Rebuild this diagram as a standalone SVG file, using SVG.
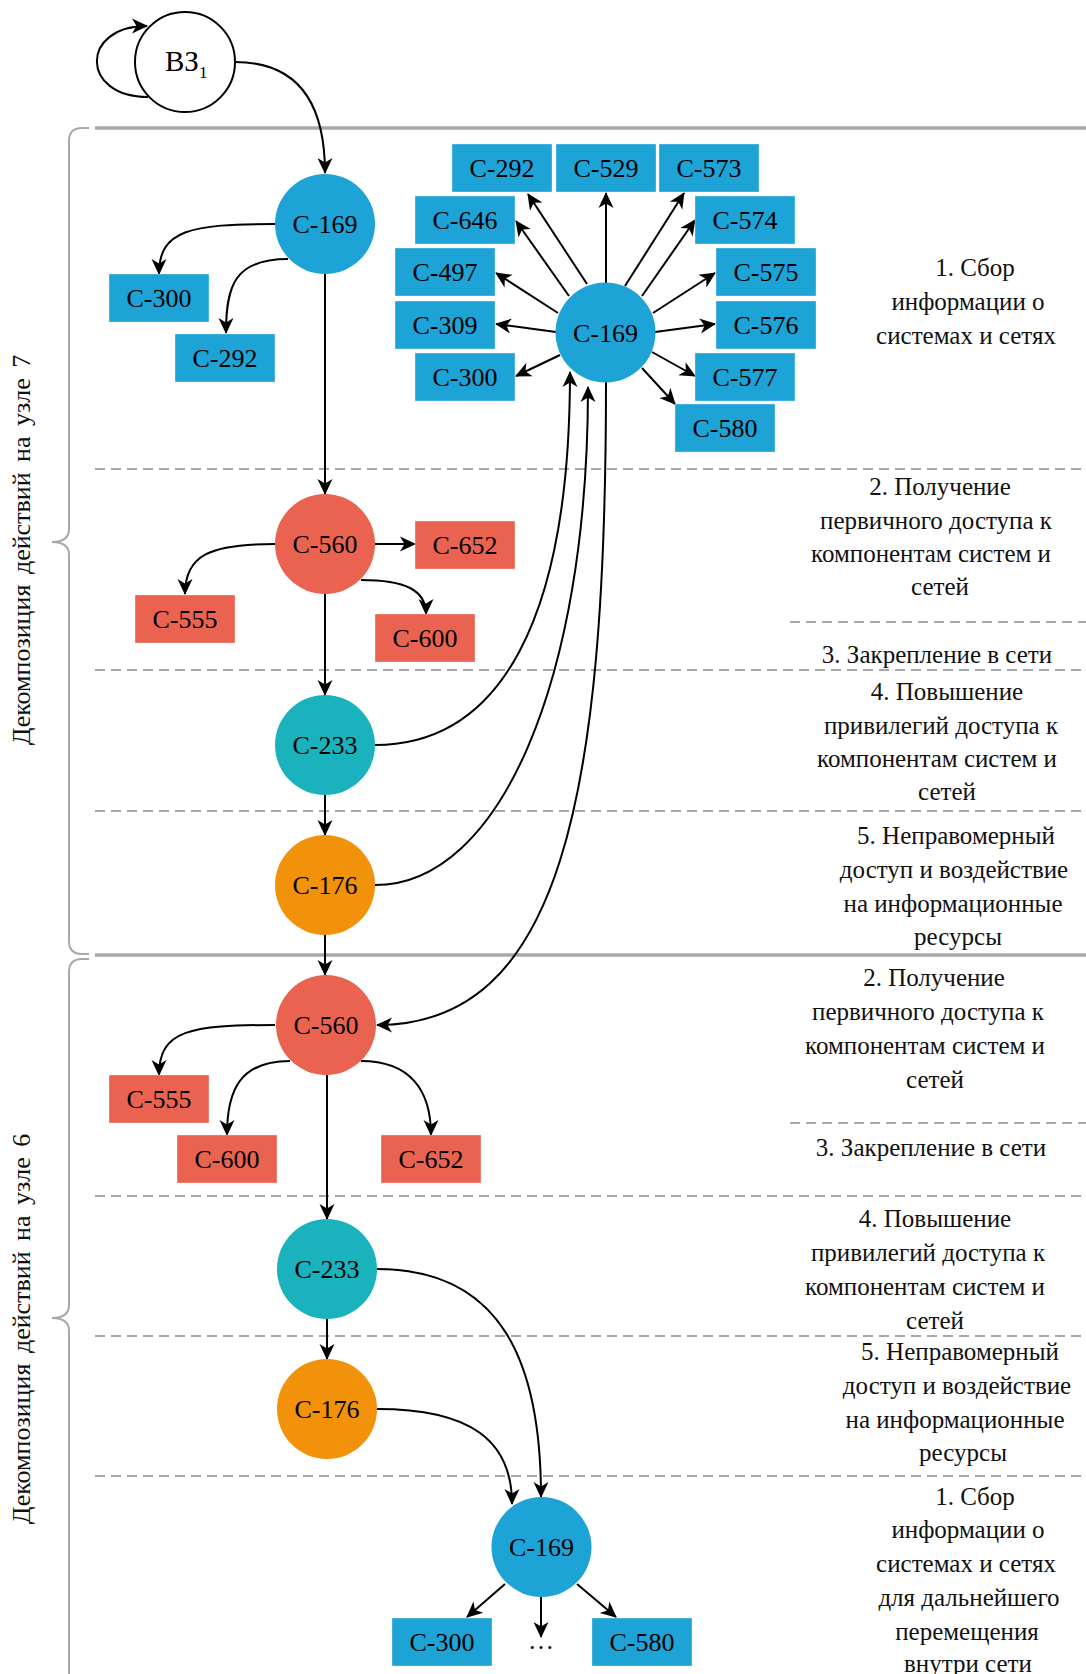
<svg xmlns="http://www.w3.org/2000/svg" width="1086" height="1674" viewBox="0 0 1086 1674" font-family="'Liberation Serif', 'DejaVu Serif', serif">
<style>
text{font-family:'Liberation Serif','DejaVu Serif',serif}
.lbl{font-size:26px;text-anchor:middle;fill:#000}
.side{font-size:25px;text-anchor:middle;fill:#111}
.vert{font-size:26px;text-anchor:middle;fill:#111;word-spacing:4px}
.blue{fill:#1ea3d7}
.red{fill:#e96350}
.teal{fill:#1ab2bd}
.orange{fill:#f2920a}
.box{stroke:#ffffff;stroke-opacity:0.35;stroke-width:1}
.solid{stroke:#a8a8a8;stroke-width:3.5;fill:none}
.dash{stroke:#a8a8a8;stroke-width:2;stroke-dasharray:10 6;fill:none}
.brace{stroke:#a8a8a8;stroke-width:2;fill:none}
.con{stroke:#000;stroke-width:2;fill:none}
.arr{marker-end:url(#ah)}
</style>
<defs>
<marker id="ah" viewBox="-17 -8 18 16" markerWidth="18" markerHeight="16" refX="0" refY="0" orient="auto" markerUnits="userSpaceOnUse">
<path d="M1,0 L-15,-7.5 L-10.5,0 L-15,7.5 Z" fill="#000"/>
</marker>
</defs>

<g id="bands">
<line class="solid" x1="95" y1="128" x2="1086" y2="128"/>
<line class="solid" x1="95" y1="955" x2="1086" y2="955"/>
<line class="dash" x1="95" y1="469" x2="1086" y2="469"/>
<line class="dash" x1="790" y1="622" x2="1086" y2="622"/>
<line class="dash" x1="95" y1="670" x2="1086" y2="670"/>
<line class="dash" x1="95" y1="811" x2="1086" y2="811"/>
<line class="dash" x1="790" y1="1123" x2="1086" y2="1123"/>
<line class="dash" x1="95" y1="1196" x2="1086" y2="1196"/>
<line class="dash" x1="95" y1="1336" x2="1086" y2="1336"/>
<line class="dash" x1="95" y1="1476" x2="1086" y2="1476"/>
</g>

<g id="braces">
<path class="brace" d="M89,128 L82,128 Q69,128 69,141 L69,529 Q69,542 52,542 Q69,542 69,555 L69,941 Q69,954 82,954 L89,954"/>
<path class="brace" d="M89,959 L82,959 Q69,959 69,972 L69,1305 Q69,1318 52,1318 Q69,1318 69,1331 L69,1680"/>
<text class="vert" transform="translate(30,550) rotate(-90)">Декомпозиция действий на узле 7</text>
<text class="vert" transform="translate(30,1329) rotate(-90)">Декомпозиция действий на узле 6</text>
</g>

<g id="stages">
<text class="side" x="975" y="276">1. Сбор</text>
<text class="side" x="968" y="310">информации о</text>
<text class="side" x="966" y="344">системах и сетях</text>
<text class="side" x="940" y="495">2. Получение</text>
<text class="side" x="936" y="529">первичного доступа к</text>
<text class="side" x="931" y="562">компонентам систем и</text>
<text class="side" x="940" y="595">сетей</text>
<text class="side" x="937" y="663">3. Закрепление в сети</text>
<text class="side" x="947" y="700">4. Повышение</text>
<text class="side" x="941" y="734">привилегий доступа к</text>
<text class="side" x="937" y="767">компонентам систем и</text>
<text class="side" x="947" y="800">сетей</text>
<text class="side" x="956" y="844">5. Неправомерный</text>
<text class="side" x="954" y="878">доступ и воздействие</text>
<text class="side" x="953" y="912">на информационные</text>
<text class="side" x="958" y="945">ресурсы</text>
<text class="side" x="934" y="986">2. Получение</text>
<text class="side" x="928" y="1020">первичного доступа к</text>
<text class="side" x="925" y="1054">компонентам систем и</text>
<text class="side" x="935" y="1088">сетей</text>
<text class="side" x="931" y="1156">3. Закрепление в сети</text>
<text class="side" x="935" y="1227">4. Повышение</text>
<text class="side" x="928" y="1261">привилегий доступа к</text>
<text class="side" x="925" y="1295">компонентам систем и</text>
<text class="side" x="935" y="1329">сетей</text>
<text class="side" x="960" y="1360">5. Неправомерный</text>
<text class="side" x="957" y="1394">доступ и воздействие</text>
<text class="side" x="955" y="1428">на информационные</text>
<text class="side" x="963" y="1461">ресурсы</text>
<text class="side" x="975" y="1505">1. Сбор</text>
<text class="side" x="968" y="1538">информации о</text>
<text class="side" x="966" y="1572">системах и сетях</text>
<text class="side" x="969" y="1606">для дальнейшего</text>
<text class="side" x="967" y="1640">перемещения</text>
<text class="side" x="968" y="1672">внутри сети</text>
</g>

<g id="connectors">
<path class="con arr" d="M235,62 C300,62 325,105 325,173"/>
<path class="con arr" d="M148,97 C80,97 80,26 147,26"/>
<path class="con arr" d="M275,224 C190,224 159,230 159,274"/>
<path class="con arr" d="M288,259 C235,259 226,285 226,333"/>
<path class="con arr" d="M325,274 L325,494"/>
<path class="con arr" d="M587,284 L528,194"/>
<path class="con arr" d="M606,283 L606,193"/>
<path class="con arr" d="M625,286 L684,193"/>
<path class="con arr" d="M569,296 L516,221"/>
<path class="con arr" d="M642,296 L695,220"/>
<path class="con arr" d="M558,313 L496,273"/>
<path class="con arr" d="M653,313 L715,273"/>
<path class="con arr" d="M556,332 L496,324"/>
<path class="con arr" d="M655,332 L715,324"/>
<path class="con arr" d="M560,355 L516,376"/>
<path class="con arr" d="M652,352 L695,376"/>
<path class="con arr" d="M642,368 L675,404"/>
<path class="con arr" d="M375,544 L415,544"/>
<path class="con arr" d="M275,544 C210,544 185,555 185,594"/>
<path class="con arr" d="M361,580 C405,580 426,590 426,614"/>
<path class="con arr" d="M325,594 L325,695"/>
<path class="con arr" d="M325,795 L325,835"/>
<path class="con arr" d="M325,935 L325,975"/>
<path class="con arr" d="M375,745 C500,745 570,620 570,372"/>
<path class="con arr" d="M375,885 C500,885 588,680 588,387"/>
<path class="con arr" d="M606,382 C606,800 560,1025 377,1025"/>
<path class="con arr" d="M275,1025 C190,1025 159,1030 159,1075"/>
<path class="con arr" d="M290,1061 C240,1061 227,1090 227,1135"/>
<path class="con arr" d="M361,1061 C410,1061 431,1090 431,1135"/>
<path class="con arr" d="M327,1075 L327,1219"/>
<path class="con arr" d="M327,1319 L327,1359"/>
<path class="con arr" d="M377,1269 C500,1269 541,1360 541,1497"/>
<path class="con arr" d="M377,1409 C470,1409 512,1440 512,1504"/>
<path class="con arr" d="M505,1584 L467,1617"/>
<path class="con arr" d="M577,1584 L616,1617"/>
<path class="con arr" d="M541,1597 L541,1637"/>
</g>

<g id="n-vz1"><circle cx="185" cy="62" r="50" fill="#fff" stroke="#000" stroke-width="2"/><text class="lbl" x="165" y="71" style="text-anchor:start;font-size:29px">ВЗ<tspan font-size="17" dy="7">1</tspan></text></g>

<g id="n-c169-a"><circle class="blue" cx="325" cy="224" r="50"/><text class="lbl" x="325" y="233">С-169</text></g>
<g id="n-c300-a"><rect class="blue box" x="109" y="274" width="100" height="48"/><text class="lbl" x="159" y="307">С-300</text></g>
<g id="n-c292-a"><rect class="blue box" x="175" y="334" width="100" height="48"/><text class="lbl" x="225" y="367">С-292</text></g>

<g id="n-c169-b"><circle class="blue" cx="605.5" cy="332.5" r="50"/><text class="lbl" x="605.5" y="341.5">С-169</text></g>
<g id="n-c292-b"><rect class="blue box" x="452" y="144" width="100" height="48"/><text class="lbl" x="502" y="177">С-292</text></g>
<g id="n-c529-b"><rect class="blue box" x="556" y="144" width="100" height="48"/><text class="lbl" x="606" y="177">С-529</text></g>
<g id="n-c573-b"><rect class="blue box" x="659" y="144" width="100" height="48"/><text class="lbl" x="709" y="177">С-573</text></g>
<g id="n-c646-b"><rect class="blue box" x="415" y="196" width="100" height="48"/><text class="lbl" x="465" y="229">С-646</text></g>
<g id="n-c574-b"><rect class="blue box" x="695" y="196" width="100" height="48"/><text class="lbl" x="745" y="229">С-574</text></g>
<g id="n-c497-b"><rect class="blue box" x="395" y="248" width="100" height="48"/><text class="lbl" x="445" y="281">С-497</text></g>
<g id="n-c575-b"><rect class="blue box" x="716" y="248" width="100" height="48"/><text class="lbl" x="766" y="281">С-575</text></g>
<g id="n-c309-b"><rect class="blue box" x="395" y="301" width="100" height="48"/><text class="lbl" x="445" y="334">С-309</text></g>
<g id="n-c576-b"><rect class="blue box" x="716" y="301" width="100" height="48"/><text class="lbl" x="766" y="334">С-576</text></g>
<g id="n-c300-b"><rect class="blue box" x="415" y="353" width="100" height="48"/><text class="lbl" x="465" y="386">С-300</text></g>
<g id="n-c577-b"><rect class="blue box" x="695" y="353" width="100" height="48"/><text class="lbl" x="745" y="386">С-577</text></g>
<g id="n-c580-b"><rect class="blue box" x="675" y="404" width="100" height="48"/><text class="lbl" x="725" y="437">С-580</text></g>

<g id="n-c560-a"><circle class="red" cx="325" cy="544" r="50"/><text class="lbl" x="325" y="553">С-560</text></g>
<g id="n-c652-a"><rect class="red box" x="415" y="521" width="100" height="48"/><text class="lbl" x="465" y="554">С-652</text></g>
<g id="n-c555-a"><rect class="red box" x="135" y="595" width="100" height="48"/><text class="lbl" x="185" y="628">С-555</text></g>
<g id="n-c600-a"><rect class="red box" x="375" y="614" width="100" height="48"/><text class="lbl" x="425" y="647">С-600</text></g>
<g id="n-c233-a"><circle class="teal" cx="325" cy="745" r="50"/><text class="lbl" x="325" y="754">С-233</text></g>
<g id="n-c176-a"><circle class="orange" cx="325" cy="885" r="50"/><text class="lbl" x="325" y="894">С-176</text></g>

<g id="n-c560-b"><circle class="red" cx="326" cy="1025" r="50"/><text class="lbl" x="326" y="1034">С-560</text></g>
<g id="n-c555-b"><rect class="red box" x="109" y="1075" width="100" height="48"/><text class="lbl" x="159" y="1108">С-555</text></g>
<g id="n-c600-b"><rect class="red box" x="177" y="1135" width="100" height="48"/><text class="lbl" x="227" y="1168">С-600</text></g>
<g id="n-c652-b"><rect class="red box" x="381" y="1135" width="100" height="48"/><text class="lbl" x="431" y="1168">С-652</text></g>
<g id="n-c233-b"><circle class="teal" cx="327" cy="1269" r="50"/><text class="lbl" x="327" y="1278">С-233</text></g>
<g id="n-c176-b"><circle class="orange" cx="327" cy="1409" r="50"/><text class="lbl" x="327" y="1418">С-176</text></g>

<g id="n-c169-c"><circle class="blue" cx="541.5" cy="1547" r="50"/><text class="lbl" x="541.5" y="1556">С-169</text></g>
<g id="n-c300-c"><rect class="blue box" x="392" y="1618" width="100" height="48"/><text class="lbl" x="442" y="1651">С-300</text></g>
<g id="n-dots-c"><text class="lbl" x="541" y="1649">…</text></g>
<g id="n-c580-c"><rect class="blue box" x="592" y="1618" width="100" height="48"/><text class="lbl" x="642" y="1651">С-580</text></g>
</svg>
